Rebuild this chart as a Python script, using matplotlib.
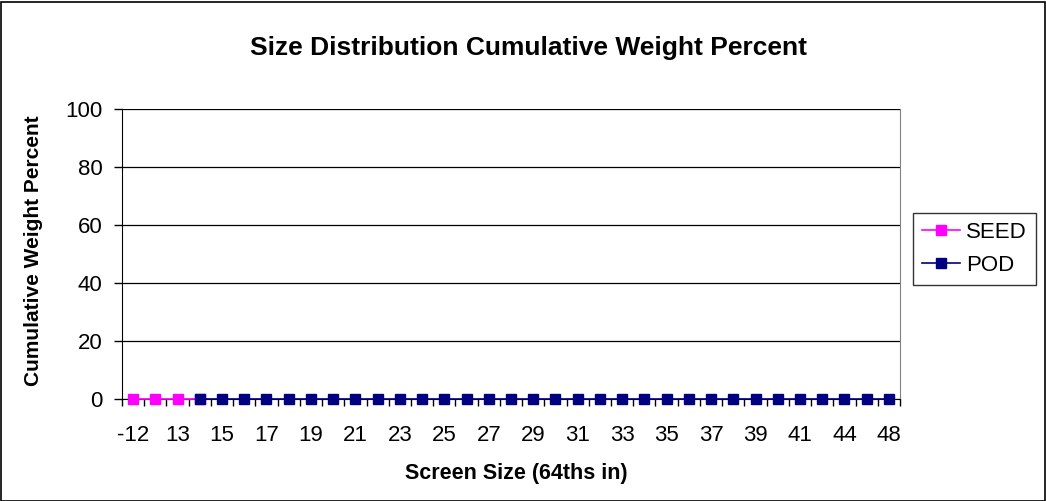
import matplotlib.pyplot as plt
import numpy as np
from matplotlib.patches import Rectangle

plt.rcParams['font.family'] = ['Liberation Sans', 'DejaVu Sans']

# screen sizes (categories on the x axis)
sizes = [-12, 12] + list(range(13, 42)) + [42, 44, 46, 48]
seed = [0, 0, 0, 0] + [None] * (len(sizes) - 4)
pod = [None, None, None] + [0] * (len(sizes) - 3)

W, H = 1046, 501
fig = plt.figure(figsize=(W / 100, H / 100), dpi=100)
ax = fig.add_axes([122 / W, 1 - 399 / H, 778 / W, 290 / H])

x = np.arange(len(sizes))
seed_y = np.array([np.nan if v is None else v for v in seed], dtype=float)
pod_y = np.array([np.nan if v is None else v for v in pod], dtype=float)

ax.plot(x, seed_y, color='#ff00ff', marker='s', markersize=7, linewidth=1.2,
        markeredgecolor='#ff00ff', label='SEED', clip_on=False, zorder=3)
ax.plot(x, pod_y, color='#000080', marker='s', markersize=7, linewidth=1.2,
        markeredgecolor='#000080', label='POD', clip_on=False, zorder=4)

ax.set_xlim(-0.5, len(sizes) - 0.5)
ax.set_ylim(0, 100)
ax.set_yticks(range(0, 101, 20))
ax.tick_params(axis='y', labelsize=16, direction='out', length=6, width=1, colors='black', pad=8)
ax.yaxis.grid(True, color='black', linewidth=0.9)
ax.set_axisbelow(True)

ax.set_xticks(x[::2])
ax.set_xticklabels([str(s) for s in sizes[::2]], fontsize=16)
ax.tick_params(axis='x', which='major', length=0, pad=19)
ax.set_xticks(np.arange(-0.5, len(sizes), 1), minor=True)
ax.tick_params(axis='x', which='minor', direction='out', length=5, width=1)

ax.spines['top'].set_visible(False)
ax.spines['right'].set_color('#808080')
ax.spines['left'].set_color('black')
ax.spines['bottom'].set_color('black')

fig.text(516 / W, 1 - 473 / H, 'Screen Size (64ths in)', ha='center', va='center',
         fontsize=15.5, fontweight='bold')
fig.text(34 / W, 1 - 251 / H, 'Cumulative Weight Percent', ha='center', va='center',
         rotation=90, fontsize=15, fontweight='bold')
fig.text(529 / W, 1 - 55 / H, 'Size Distribution Cumulative Weight Percent',
         ha='center', va='baseline', fontsize=19, fontweight='bold')

leg = ax.legend(loc='center left', bbox_to_anchor=(913 / W, 1 - 249 / H),
                bbox_transform=fig.transFigure, frameon=True, fancybox=False,
                fontsize=16, handlelength=1.7, handletextpad=0.3, borderpad=0.4,
                labelspacing=0.55, borderaxespad=0)
leg.get_frame().set_edgecolor('black')
leg.get_frame().set_linewidth(1)

fig.patches.append(Rectangle((0.5 / W, 0.5 / H), 1 - 2 / W, 1 - 2 / H,
                             transform=fig.transFigure, fill=False,
                             edgecolor='black', linewidth=1.2))

fig.savefig('out.png', dpi=100)
